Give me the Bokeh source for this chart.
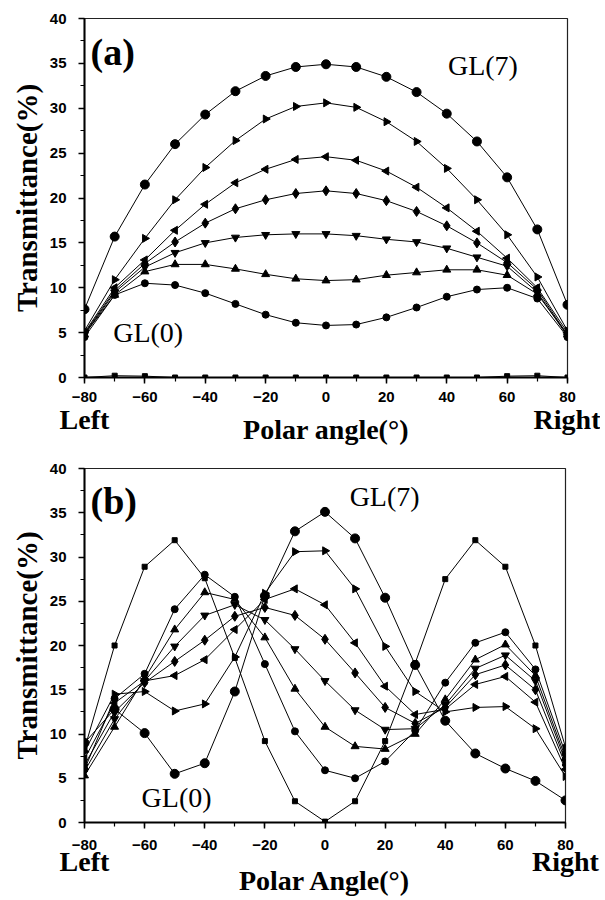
import math
from bokeh.plotting import figure
from bokeh.layouts import column
from bokeh.models import Label, SingleIntervalTicker, FixedTicker, Range1d, LinearAxis
from bokeh.embed import file_html
from bokeh.resources import INLINE

angles = [-80, -70, -60, -50, -40, -30, -20, -10, 0, 10, 20, 30, 40, 50, 60, 70, 80]
side_ticks = [-80, 80]
side_names = ["Left", "Right"]

# Panel (a)
a_gl0 = [0.0, 0.2, 0.15, 0.0, 0.0, 0.0, 0.0, 0.0, 0.0, 0.0, 0.0, 0.0, 0.0, 0.0, 0.15, 0.2, 0.0]
a_gl1 = [4.5, 9.2, 10.5, 10.3, 9.4, 8.2, 7.0, 6.1, 5.8, 5.9, 6.7, 7.8, 9.0, 9.8, 10.0, 8.8, 4.5]
a_gl2 = [4.8, 9.2, 11.8, 12.6, 12.6, 12.1, 11.5, 11.0, 10.8, 10.9, 11.4, 11.7, 12.0, 12.0, 11.4, 9.3, 4.8]
a_gl3 = [4.8, 9.5, 12.3, 13.9, 15.0, 15.6, 15.9, 16.0, 16.0, 15.8, 15.4, 15.1, 14.4, 13.4, 12.4, 9.5, 4.6]
a_gl4 = [4.9, 9.7, 12.7, 15.1, 17.2, 18.8, 19.8, 20.5, 20.8, 20.5, 19.7, 18.5, 16.9, 15.0, 12.8, 9.8, 4.7]
a_gl5 = [5.0, 10.0, 13.1, 16.4, 19.3, 21.7, 23.2, 24.3, 24.6, 24.2, 23.0, 21.2, 18.9, 16.3, 13.3, 10.0, 5.0]
a_gl6 = [5.2, 10.9, 15.5, 19.8, 23.4, 26.4, 28.8, 30.2, 30.6, 30.1, 28.5, 26.3, 23.3, 19.8, 15.9, 11.2, 5.2]
a_gl7 = [7.6, 15.7, 21.5, 26.0, 29.3, 31.9, 33.6, 34.6, 34.9, 34.6, 33.5, 31.8, 29.4, 26.3, 22.3, 16.5, 8.1]

# Panel (b)
b_gl0 = [8.3, 20.0, 28.9, 31.9, 27.6, 18.6, 9.2, 2.4, 0.1, 2.4, 9.2, 18.0, 27.5, 31.9, 28.9, 20.0, 8.5]
b_gl1 = [6.0, 14.0, 16.8, 24.1, 28.0, 25.5, 17.9, 10.3, 5.9, 5.0, 6.9, 10.4, 15.8, 20.3, 21.5, 17.3, 7.8]
b_gl2 = [5.3, 10.8, 16.3, 21.8, 26.0, 25.2, 20.9, 15.1, 10.8, 8.6, 8.3, 10.0, 13.9, 18.4, 20.1, 16.6, 7.3]
b_gl3 = [5.8, 11.7, 16.0, 19.9, 23.4, 24.6, 22.9, 19.6, 16.0, 12.7, 10.5, 10.6, 13.3, 17.4, 18.9, 16.0, 6.9]
b_gl4 = [6.5, 12.5, 15.8, 18.2, 20.6, 23.3, 24.3, 23.4, 20.7, 16.9, 13.0, 11.2, 13.0, 16.7, 17.8, 15.0, 6.5]
b_gl5 = [7.2, 13.5, 16.0, 16.6, 18.4, 21.8, 25.2, 26.4, 24.6, 20.3, 15.4, 12.2, 12.8, 15.6, 16.5, 13.6, 6.0]
b_gl6 = [8.0, 14.5, 14.8, 12.6, 13.4, 18.7, 25.9, 30.6, 30.7, 26.4, 19.9, 14.8, 12.5, 13.0, 13.1, 10.6, 5.2]
b_gl7 = [9.0, 12.8, 10.1, 5.5, 6.7, 14.8, 25.6, 32.9, 35.1, 32.1, 25.4, 17.8, 11.5, 7.8, 6.1, 4.7, 2.5]

markers = [
    ("square", 0.0, 5),
    ("circle", 0.0, 7),
    ("triangle", 0.0, 8),
    ("inverted_triangle", 0.0, 8),
    ("diamond", 0.0, 10),
    ("triangle", math.pi / 2, 8),
    ("triangle", -math.pi / 2, 8),
    ("circle", 0.0, 9),
]

SERIF = "Liberation Serif"
SANS = "Liberation Sans"


def make_panel(series, panel_label, xlabel, fw, fh, left, top, bottom,
               tick_standoff, side_standoff, title_standoff, gl7_pos, gl0_pos):
    p = figure(frame_width=fw, frame_height=fh,
               x_range=Range1d(-80, 80), y_range=Range1d(0, 40),
               output_backend="svg", toolbar_location=None,
               min_border_left=left, min_border_right=600 - left - fw,
               min_border_top=top, min_border_bottom=bottom)
    p.grid.visible = False
    p.outline_line_color = "#222222"
    p.outline_line_width = 1.2
    p.background_fill_color = "white"
    p.border_fill_color = "white"

    p.xaxis.ticker = SingleIntervalTicker(interval=20, num_minor_ticks=2)
    p.yaxis.ticker = SingleIntervalTicker(interval=5, num_minor_ticks=2)
    for ax in (p.xaxis[0], p.yaxis[0]):
        ax.axis_line_width = 2
        ax.axis_line_color = "black"
        ax.major_tick_line_color = "black"
        ax.minor_tick_line_color = "black"
        ax.major_tick_line_width = 1.5
        ax.minor_tick_line_width = 1.2
        ax.major_tick_out = 6
        ax.major_tick_in = 0
        ax.minor_tick_out = 4
        ax.minor_tick_in = 0
        ax.major_label_text_font = SANS
        ax.major_label_text_font_style = "bold"
        ax.major_label_text_font_size = "15px"
        ax.major_label_text_color = "black"
        ax.axis_label_text_font = SERIF
        ax.axis_label_text_font_style = "bold"
        ax.axis_label_text_font_size = "29px"
        ax.axis_label_text_color = "black"
    p.yaxis.major_label_standoff = 12
    p.yaxis.axis_label = "Transmittance(%)"
    p.yaxis.axis_label_standoff = 4
    p.xaxis.major_label_standoff = tick_standoff

    # second axis below: "Left" / "Right" and the axis title
    side = LinearAxis(ticker=FixedTicker(ticks=side_ticks),
                      major_label_overrides={t: n for t, n in zip(side_ticks, side_names)},
                      axis_label=xlabel)
    side.axis_line_color = None
    side.major_tick_line_color = None
    side.minor_tick_line_color = None
    side.major_tick_out = 0
    side.major_tick_in = 0
    side.major_label_standoff = side_standoff
    side.major_label_text_font = SERIF
    side.major_label_text_font_style = "bold"
    side.major_label_text_font_size = "28px"
    side.major_label_text_color = "black"
    side.axis_label_text_font = SERIF
    side.axis_label_text_font_style = "bold"
    side.axis_label_text_font_size = "28px"
    side.axis_label_text_color = "black"
    side.axis_label_standoff = title_standoff
    p.add_layout(side, "below")

    for vals, (mk, ang, sz) in zip(series, markers):
        p.line(angles, vals, line_color="black", line_width=1)
        p.scatter(angles, vals, marker=mk, angle=ang, size=sz,
                  fill_color="black", line_color="black")

    p.add_layout(Label(x=-78, y=36.3, text=panel_label, text_font=SERIF,
                       text_font_style="bold", text_font_size="38px",
                       text_baseline="middle", text_color="black"))
    p.add_layout(Label(x=gl7_pos[0], y=gl7_pos[1], text="GL(7)", text_font=SERIF,
                       text_font_size="28px", text_baseline="middle", text_color="black"))
    p.add_layout(Label(x=gl0_pos[0], y=gl0_pos[1], text="GL(0)", text_font=SERIF,
                       text_font_size="28px", text_baseline="middle", text_color="black"))
    return p


pa = make_panel([a_gl0, a_gl1, a_gl2, a_gl3, a_gl4, a_gl5, a_gl6, a_gl7], "(a)",
                "Polar angle(°)", 483, 359, 84, 18, 60, 8, -1, -24,
                (40.4, 34.8), (-70.5, 5.0))
pb = make_panel([b_gl0, b_gl1, b_gl2, b_gl3, b_gl4, b_gl5, b_gl6, b_gl7], "(b)",
                "Polar Angle(°)", 481, 354, 84, 21, 50, 11, -7, -15,
                (8.2, 36.8), (-61.0, 2.85))

layout = column(pa, pb, spacing=0)
open("out.html", "w").write(file_html(layout, INLINE))
